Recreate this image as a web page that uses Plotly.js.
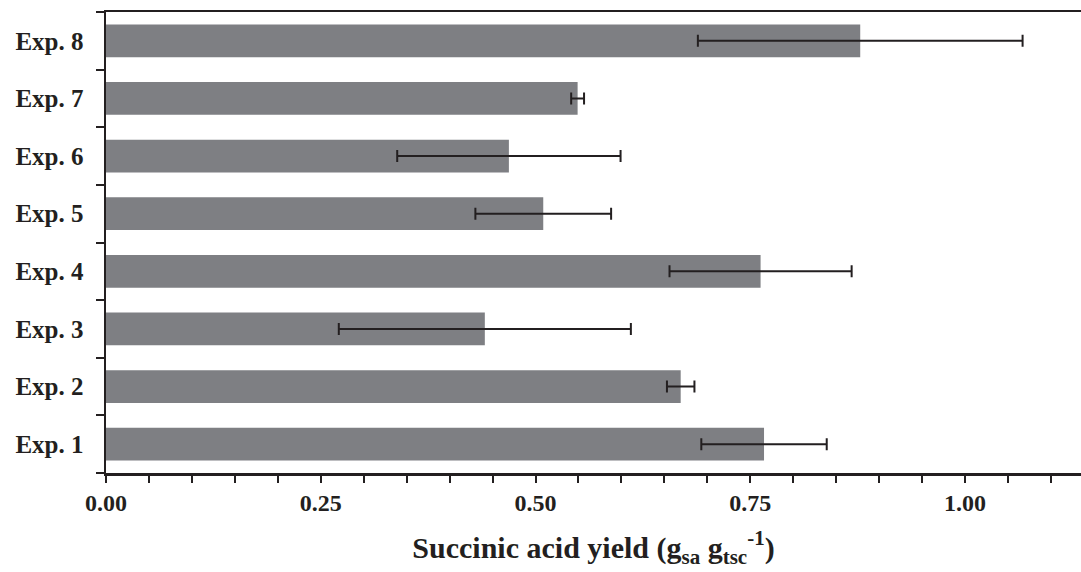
<!DOCTYPE html>
<html>
<head>
<meta charset="utf-8">
<script src="https://cdn.plot.ly/plotly-3.0.1.min.js"></script>
<style>html,body{margin:0;padding:0;background:#fff;}#chart{width:1081px;height:572px;}</style>
</head>
<body>
<div id="chart"></div>
<script>
const categories = ['Exp. 1','Exp. 2','Exp. 3','Exp. 4','Exp. 5','Exp. 6','Exp. 7','Exp. 8'];
const yieldValues = [0.766, 0.669, 0.441, 0.762, 0.509, 0.469, 0.549, 0.878];
const yieldErrors = [0.073, 0.016, 0.170, 0.106, 0.079, 0.130, 0.0075, 0.189];
const xTickValues = [0, 0.25, 0.5, 0.75, 1.0];
const xTickLabels = ['0.00','0.25','0.50','0.75','1.00'];

const ink = '#231f20';
const serif = '"Liberation Serif", "Times New Roman", serif';

const trace = {
  type: 'bar',
  orientation: 'h',
  y: categories,
  x: yieldValues,
  width: 0.57,
  marker: {color: '#7e7f83', line: {width: 0}},
  error_x: {type: 'data', array: yieldErrors, visible: true, color: ink, thickness: 2, width: 6},
  hoverinfo: 'skip'
};

const layout = {
  width: 1081, height: 572,
  margin: {l: 106, r: 0, t: 12, b: 99},
  paper_bgcolor: '#fff', plot_bgcolor: '#fff',
  showlegend: false,
  font: {family: serif, color: ink},
  xaxis: {
    range: [0, 1.135],
    tickmode: 'array', tickvals: xTickValues, ticktext: xTickLabels,
    ticks: 'outside', ticklen: 7, tickwidth: 2, tickcolor: ink,
    minor: {dtick: 0.05, ticks: 'outside', ticklen: 7, tickwidth: 2, tickcolor: ink, showgrid: false},
    showline: true, linewidth: 2.5, linecolor: ink, mirror: true,
    showgrid: false, zeroline: false,
    tickfont: {family: serif, size: 24, color: ink, weight: 'bold'},
    title: {text: '<b>Succinic acid yield (g<sub>sa</sub> g<sub>tsc</sub><sup>-1</sup>)</b>', font: {family: serif, size: 30, color: ink}, standoff: 22},
    automargin: false,
    fixedrange: true
  },
  yaxis: {
    type: 'category',
    tickson: 'boundaries',
    ticks: 'outside', ticklen: 8, tickwidth: 2, tickcolor: ink,
    ticklabelstandoff: 15,
    showline: true, linewidth: 2.5, linecolor: ink, mirror: false,
    showgrid: false, zeroline: false,
    tickfont: {family: serif, size: 25, color: ink, weight: 'bold'},
    automargin: false,
    fixedrange: true
  }
};

Plotly.newPlot('chart', [trace], layout, {displayModeBar: false, staticPlot: true});
</script>
</body>
</html>
